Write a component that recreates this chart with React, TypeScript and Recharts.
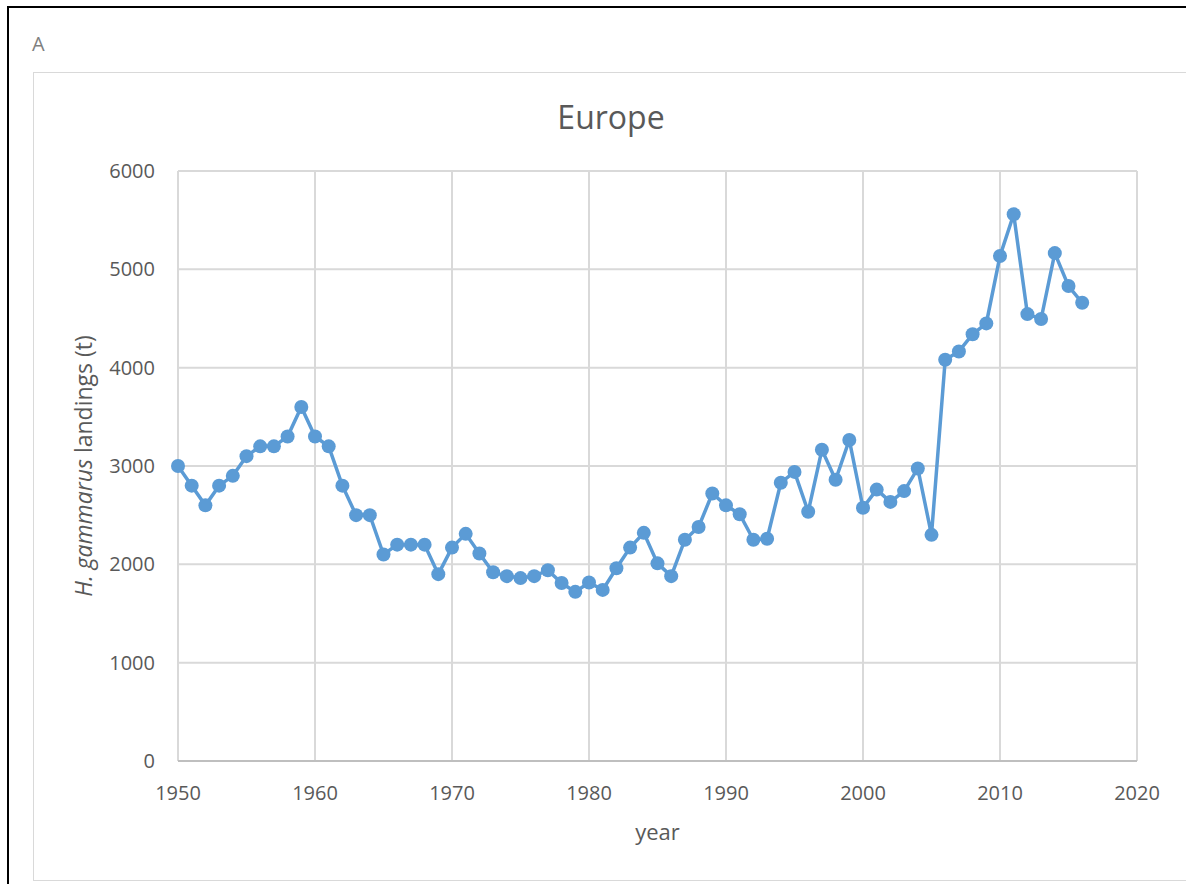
import { LineChart, Line, XAxis, YAxis, CartesianGrid, Label } from 'recharts';

const years = [
  1950, 1951, 1952, 1953, 1954, 1955, 1956, 1957, 1958, 1959,
  1960, 1961, 1962, 1963, 1964, 1965, 1966, 1967, 1968, 1969,
  1970, 1971, 1972, 1973, 1974, 1975, 1976, 1977, 1978, 1979,
  1980, 1981, 1982, 1983, 1984, 1985, 1986, 1987, 1988, 1989,
  1990, 1991, 1992, 1993, 1994, 1995, 1996, 1997, 1998, 1999,
  2000, 2001, 2002, 2003, 2004, 2005, 2006, 2007, 2008, 2009,
  2010, 2011, 2012, 2013, 2014, 2015, 2016,
];

const landings = [
  3000, 2800, 2600, 2800, 2900, 3100, 3200, 3200, 3300, 3600,
  3300, 3200, 2800, 2500, 2500, 2100, 2200, 2200, 2200, 1900,
  2170, 2310, 2110, 1920, 1880, 1860, 1880, 1940, 1810, 1720,
  1815, 1740, 1960, 2170, 2320, 2010, 1880, 2250, 2380, 2720,
  2600, 2510, 2250, 2260, 2830, 2940, 2535, 3165, 2860, 3265,
  2575, 2760, 2635, 2745, 2975, 2300, 4080, 4165, 4340, 4450,
  5135, 5560, 4545, 4495, 5165, 4830, 4660,
];

const xTicks = [1950, 1960, 1970, 1980, 1990, 2000, 2010, 2020];
const yTicks = [0, 1000, 2000, 3000, 4000, 5000, 6000];

const data = years.map((year, i) => ({ year, landings: landings[i] }));

const textColor = '#595959';
const font = '"Open Sans", sans-serif';

const YTitle = (props: any) => {
  const { viewBox } = props;
  const cx = 83;
  const cy = viewBox.y + viewBox.height / 2;
  return (
    <text
      x={cx}
      y={cy}
      transform={`rotate(-90 ${cx} ${cy})`}
      textAnchor="middle"
      dominantBaseline="central"
      fill={textColor}
      fontSize={23}
      fontFamily={font}
    >
      <tspan fontStyle="italic">H. gammarus</tspan>
      <tspan> landings (t)</tspan>
    </text>
  );
};

export default function App() {
  return (
    <div
      style={{
        position: 'absolute',
        left: 0,
        top: 0,
        width: 1186,
        height: 884,
        overflow: 'hidden',
        background: '#fff',
        fontFamily: font,
      }}
    >
      <div
        style={{
          position: 'absolute',
          left: 7,
          top: 6,
          width: 1300,
          height: 1000,
          border: '2px solid #000',
        }}
      />
      <div
        style={{
          position: 'absolute',
          left: 33,
          top: 72,
          width: 1300,
          height: 807,
          border: '1.5px solid #d9d9d9',
        }}
      />
      <div
        style={{
          position: 'absolute',
          left: 32,
          top: 30,
          fontSize: 20,
          lineHeight: '28px',
          color: '#7f7f7f',
        }}
      >
        A
      </div>
      <div
        style={{
          position: 'absolute',
          left: 0,
          width: 1222,
          top: 95,
          textAlign: 'center',
          fontSize: 32,
          color: textColor,
          lineHeight: '44px',
        }}
      >
        Europe
      </div>
      <div style={{ position: 'absolute', left: 0, top: 0 }}>
        <LineChart
          width={1186}
          height={884}
          data={data}
          margin={{ top: 171, right: 49, left: 118, bottom: 93 }}
        >
          <CartesianGrid stroke="#d9d9d9" strokeWidth={2} />
          <XAxis
            dataKey="year"
            type="number"
            domain={[1950, 2020]}
            ticks={xTicks}
            height={30}
            axisLine={{ stroke: '#bfbfbf', strokeWidth: 2 }}
            tickLine={false}
            tickSize={6}
            tickMargin={19}
            tick={{ fill: textColor, fontSize: 20, fontFamily: font }}
            interval={0}
          >
            <Label
              value="year"
              position="bottom"
              offset={33}
              fill={textColor}
              fontSize={22}
              fontFamily={font}
            />
          </XAxis>
          <YAxis
            type="number"
            domain={[0, 6000]}
            ticks={yTicks}
            width={60}
            axisLine={false}
            tickLine={false}
            tickSize={6}
            tickMargin={17}
            tick={{ fill: textColor, fontSize: 20, fontFamily: font }}
            interval={0}
          >
            <Label content={YTitle} />
          </YAxis>
          <Line
            type="linear"
            dataKey="landings"
            stroke="#5b9bd5"
            strokeWidth={3.5}
            dot={{ r: 7, fill: '#5b9bd5', stroke: 'none' }}
            activeDot={false}
            isAnimationActive={false}
          />
        </LineChart>
      </div>
    </div>
  );
}
